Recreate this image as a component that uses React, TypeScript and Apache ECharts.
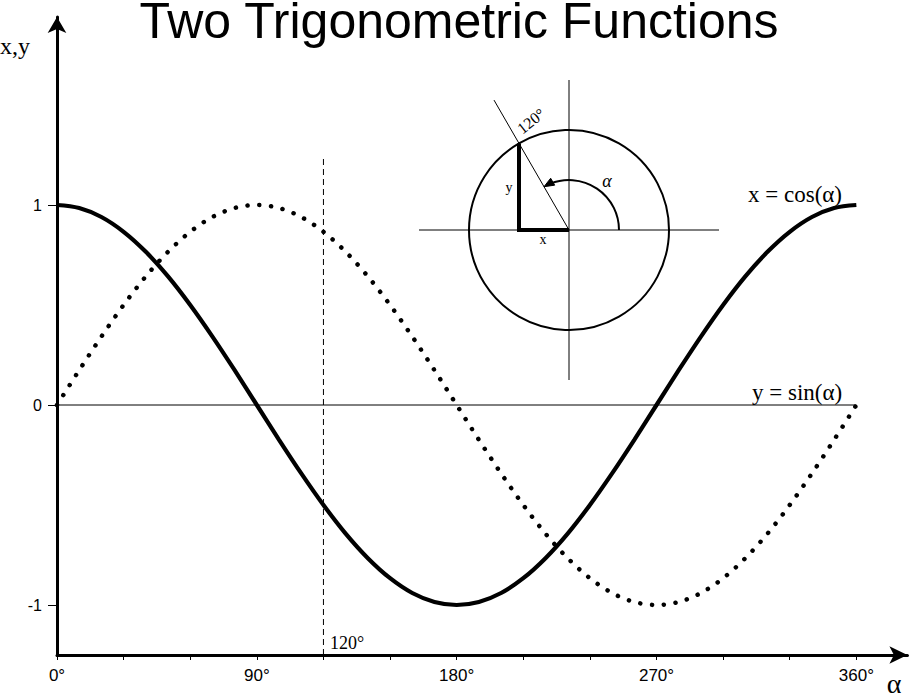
import React, { useEffect, useRef } from "react";
import * as echarts from "echarts";

// ---- data ----
const ANGLES = [0, 10, 20, 30, 40, 50, 60, 70, 80, 90, 100, 110, 120, 130, 140, 150, 160, 170, 180, 190, 200, 210, 220, 230, 240, 250, 260, 270, 280, 290, 300, 310, 320, 330, 340, 350, 360];
const COS_VALUES = [1, 0.985, 0.94, 0.866, 0.766, 0.643, 0.5, 0.342, 0.174, 0, -0.174, -0.342, -0.5, -0.643, -0.766, -0.866, -0.94, -0.985, -1, -0.985, -0.94, -0.866, -0.766, -0.643, -0.5, -0.342, -0.174, 0, 0.174, 0.342, 0.5, 0.643, 0.766, 0.866, 0.94, 0.985, 1];
const SIN_VALUES = [0, 0.174, 0.342, 0.5, 0.643, 0.766, 0.866, 0.94, 0.985, 1, 0.985, 0.94, 0.866, 0.766, 0.643, 0.5, 0.342, 0.174, 0, -0.174, -0.342, -0.5, -0.643, -0.766, -0.866, -0.94, -0.985, -1, -0.985, -0.94, -0.866, -0.766, -0.643, -0.5, -0.342, -0.174, 0];
const X_TICKS = [0, 30, 60, 90, 120, 150, 180, 210, 240, 270, 300, 330, 360];
const X_LABELS = [0, 90, 180, 270, 360];
const Y_TICKS = [-1, 0, 1];
const MARK_ANGLE = 120;
const MARK_TOP = 1.25;
const TITLE = "Two Trigonometric Functions";
const COS_LABEL = "x = cos(α)";
const SIN_LABEL = "y = sin(α)";
const Y_NAME = "x,y";
const X_NAME = "α";

const X_MIN = 0;
const X_MAX = 383;
const Y_MIN = -1.25;
const Y_MAX = 1.94;

const SERIF = "'Liberation Serif', 'Times New Roman', serif";
const SANS = "'Liberation Sans', Arial, sans-serif";

function buildInset() {
  const cx = 569;
  const cy = 230;
  const R = 100;
  const a = (MARK_ANGLE * Math.PI) / 180;
  const px = cx + R * Math.cos(a);
  const py = cy - R * Math.sin(a);
  const rayLen = 150;
  const arcR = 50;
  const tipAng = a;
  const tip = [cx + arcR * Math.cos(tipAng), cy - arcR * Math.sin(tipAng)];
  const dir = [-Math.sin(tipAng), -Math.cos(tipAng)];
  const perp = [dir[1], -dir[0]];
  const alen = 10;
  const aw = 4;
  const base = [tip[0] - alen * dir[0], tip[1] - alen * dir[1]];
  const arcEnd = (112 * Math.PI) / 180;
  const black = "#000";
  return [
    { type: "circle", shape: { cx, cy, r: R }, style: { fill: "none", stroke: black, lineWidth: 2 }, z: 10 },
    { type: "line", shape: { x1: cx - 150, y1: cy, x2: cx + 150, y2: cy }, style: { stroke: black, lineWidth: 1 }, z: 10 },
    { type: "line", shape: { x1: cx, y1: cy - 150, x2: cx, y2: cy + 150 }, style: { stroke: black, lineWidth: 1 }, z: 10 },
    {
      type: "line",
      shape: { x1: cx, y1: cy, x2: cx + rayLen * Math.cos(a), y2: cy - rayLen * Math.sin(a) },
      style: { stroke: black, lineWidth: 1 },
      z: 10,
    },
    {
      type: "polyline",
      shape: { points: [[px, py], [px, cy], [cx, cy]] },
      style: { stroke: black, lineWidth: 4, fill: "none", lineJoin: "miter" },
      z: 11,
    },
    {
      type: "arc",
      shape: { cx, cy, r: arcR, startAngle: -arcEnd, endAngle: 0, clockwise: true },
      style: { stroke: black, lineWidth: 2, fill: "none" },
      z: 11,
    },
    {
      type: "polygon",
      shape: {
        points: [
          tip,
          [base[0] + aw * perp[0], base[1] + aw * perp[1]],
          [base[0] - aw * perp[0], base[1] - aw * perp[1]],
        ],
      },
      style: { fill: black, stroke: black, lineWidth: 1 },
      z: 11,
    },
    {
      type: "text",
      x: 531,
      y: 121,
      rotation: (38 * Math.PI) / 180,
      style: { text: MARK_ANGLE + "°", font: `16px ${SERIF}`, fill: black, textAlign: "center", textVerticalAlign: "middle" },
      z: 12,
    },
    {
      type: "text",
      x: 509,
      y: 187,
      style: { text: "y", font: `14px ${SERIF}`, fill: black, textAlign: "center", textVerticalAlign: "middle" },
      z: 12,
    },
    {
      type: "text",
      x: 543,
      y: 239,
      style: { text: "x", font: `14px ${SERIF}`, fill: black, textAlign: "center", textVerticalAlign: "middle" },
      z: 12,
    },
    {
      type: "text",
      x: 607,
      y: 181,
      style: { text: "α", font: `italic 18px ${SERIF}`, fill: black, textAlign: "center", textVerticalAlign: "middle" },
      z: 12,
    },
  ];
}

export default function App() {
  const ref = useRef<HTMLDivElement>(null);
  useEffect(() => {
    if (!ref.current) return;
    const chart = echarts.init(ref.current, undefined, { renderer: "svg" });
    const gridLeft = 57;
    const pxPerDeg = 2.2204;
    const gridWidth = (X_MAX - X_MIN) * pxPerDeg;
    const axisY = 655;
    const gridHeight = (Y_MAX - Y_MIN) * 200;
    const option: any = {
      animation: false,
      backgroundColor: "#fff",
      title: {
        text: TITLE,
        left: "center",
        top: 0,
        padding: 0,
        textStyle: { fontFamily: SANS, fontSize: 50, fontWeight: "normal", color: "#000", lineHeight: 42 },
      },
      grid: { left: gridLeft, width: gridWidth, top: axisY - gridHeight, height: gridHeight },
      xAxis: {
        type: "value",
        min: X_MIN,
        max: X_MAX,
        axisLine: {
          onZero: false,
          symbol: ["none", "arrow"],
          symbolSize: [13, 18],
          lineStyle: { color: "#000", width: 3 },
        },
        axisTick: { show: true, length: 5, customValues: X_TICKS, lineStyle: { color: "#000", width: 1 } },
        axisLabel: {
          customValues: X_LABELS,
          formatter: (v: number) => v + "°",
          fontFamily: SANS,
          fontSize: 17,
          color: "#000",
          margin: 12,
        },
        splitLine: { show: false },
      },
      yAxis: {
        type: "value",
        min: Y_MIN,
        max: Y_MAX,
        axisLine: {
          show: true,
          onZero: false,
          symbol: ["none", "arrow"],
          symbolSize: [14, 16],
          lineStyle: { color: "#000", width: 3 },
        },
        axisTick: { show: true, length: 9, customValues: Y_TICKS, lineStyle: { color: "#000", width: 1 } },
        axisLabel: {
          customValues: Y_TICKS,
          fontFamily: SANS,
          fontSize: 16,
          color: "#000",
          margin: 15,
        },
        splitLine: { show: false },
      },
      series: [
        {
          type: "line",
          name: "zero",
          data: [[0, 0], [360, 0]],
          showSymbol: false,
          lineStyle: { color: "#000", width: 1 },
          z: 1,
        },
        {
          type: "line",
          name: "mark",
          data: [[MARK_ANGLE, Y_MIN], [MARK_ANGLE, MARK_TOP]],
          showSymbol: false,
          lineStyle: { color: "#000", width: 1, type: [6, 4] },
          z: 1,
        },
        {
          type: "line",
          name: "sin",
          data: ANGLES.map((a, i) => [a, SIN_VALUES[i]]),
          smooth: 0.33,
          showSymbol: false,
          lineStyle: { color: "#000", width: 4.5, type: [0.1, 11.7], cap: "round" },
          z: 2,
        },
        {
          type: "line",
          name: "cos",
          data: ANGLES.map((a, i) => [a, COS_VALUES[i]]),
          smooth: 0.33,
          showSymbol: false,
          lineStyle: { color: "#000", width: 4.2 },
          z: 3,
        },
      ],
      graphic: [
        {
          type: "text",
          left: 0,
          top: 34,
          style: { text: Y_NAME, font: `24px ${SERIF}`, fill: "#000" },
        },
        {
          type: "text",
          x: 894,
          y: 683,
          style: { text: X_NAME, font: `28px ${SERIF}`, fill: "#000", textAlign: "center", textVerticalAlign: "middle" },
        },
        {
          type: "text",
          x: 748,
          y: 194,
          style: { text: COS_LABEL, font: `23px ${SERIF}`, fill: "#000", textAlign: "left", textVerticalAlign: "middle" },
        },
        {
          type: "text",
          x: 752,
          y: 392,
          style: { text: SIN_LABEL, font: `23px ${SERIF}`, fill: "#000", textAlign: "left", textVerticalAlign: "middle" },
        },
        {
          type: "text",
          x: 330,
          y: 643,
          style: { text: MARK_ANGLE + "°", font: `18px ${SERIF}`, fill: "#000", textAlign: "left", textVerticalAlign: "middle" },
        },
        ...buildInset(),
      ],
    };
    chart.setOption(option);
    return () => chart.dispose();
  }, []);
  return (
    <div
      ref={ref}
      style={{ position: "fixed", left: 0, top: 0, width: 918, height: 698, background: "#fff" }}
    />
  );
}
